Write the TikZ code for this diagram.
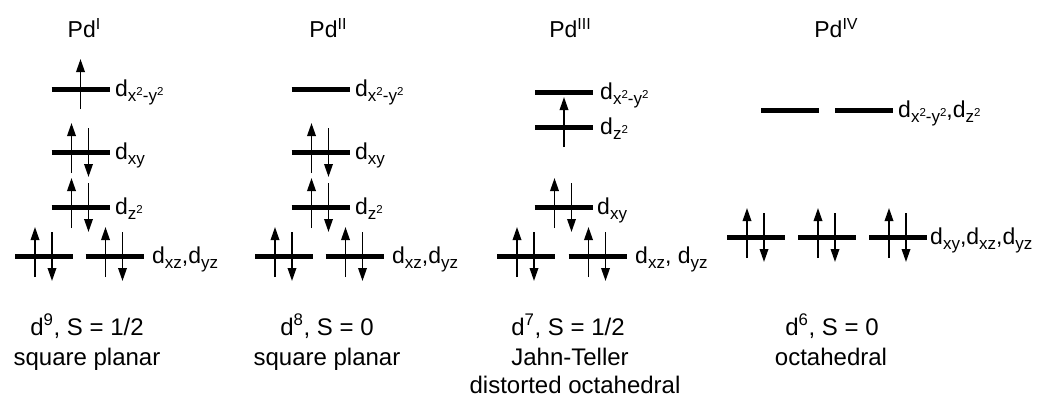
\documentclass[tikz,border=0pt]{standalone}
\usepackage{fontspec}
\setmainfont{Liberation Sans}
\usetikzlibrary{arrows.meta}

% one level: centre x, y (pixels, y downwards)
\newcommand{\lvlempty}[2]{%
	\draw[level] (#1-29,#2) -- (#1+29,#2);}
\newcommand{\lvlup}[2]{%
	\draw[level] (#1-29,#2) -- (#1+29,#2);
	\draw[spin] (#1,#2+20) -- (#1,#2-30);}
\newcommand{\lvlpair}[2]{%
	\draw[level] (#1-29,#2) -- (#1+29,#2);
	\draw[spin] (#1-9,#2+21) -- (#1-9,#2-29);
	\draw[spin] (#1+8,#2-24) -- (#1+8,#2+25);}
% orbital sub- and superscripts
\newcommand{\orbsub}[1]{\raisebox{-5.5pt}{\fontsize{17}{18}\selectfont #1}}
\newcommand{\orbsq}{\raisebox{6pt}{\fontsize{11.5}{12}\selectfont 2}}
\newcommand{\ox}{x\orbsq-y\orbsq}
\newcommand{\oxstate}[1]{\raisebox{8pt}{\fontsize{16}{18}\selectfont #1}}

\begin{document}
\begin{tikzpicture}[
			x=1pt, y=-1pt,
			% styles
			level/.style={line width=5pt},
			spin/.style={line width=1.8pt, -{Triangle[length=13pt, width=8.5pt]}},
			orblabel/.style={anchor=base west, inner sep=0pt,
				font=\fontsize{23}{25}\selectfont},
			title/.style={anchor=base, inner sep=0pt,
				font=\fontsize{23}{26}\selectfont},
			caption/.style={anchor=base, inner sep=0pt,
				font=\fontsize{24}{29}\selectfont}
		]
		\useasboundingbox (0,0) rectangle (1038,397);

		% Pd(I)
		\node[title] (titleI) at (84,37) {Pd\oxstate{I}};
		\lvlup{80.5}{89}
		\node[orblabel] (xyI) at (115,96) {d\orbsub{\ox}};
		\lvlpair{80.5}{152}
		\node[orblabel] (dxyI) at (115,159) {d\orbsub{xy}};
		\lvlpair{80.5}{207}
		\node[orblabel] (dzI) at (115,214) {d\orbsub{z\orbsq}};
		\lvlpair{44}{256}
		\lvlpair{114.5}{256}
		\node[orblabel] (dxzI) at (152,263) {d\orbsub{xz},d\orbsub{yz}};
		\node[caption] (spinI) at (87,335) {d\textsuperscript{9}, S = 1/2};
		\node[caption] (geomI) at (87,365) {square planar};

		% Pd(II)
		\node[title] (titleII) at (328,37) {Pd\oxstate{II}};
		\lvlempty{320.5}{89}
		\node[orblabel] (xyII) at (355,96) {d\orbsub{\ox}};
		\lvlpair{320.5}{152}
		\node[orblabel] (dxyII) at (355,159) {d\orbsub{xy}};
		\lvlpair{320.5}{207}
		\node[orblabel] (dzII) at (355,214) {d\orbsub{z\orbsq}};
		\lvlpair{284}{256}
		\lvlpair{354.5}{256}
		\node[orblabel] (dxzII) at (392,263) {d\orbsub{xz},d\orbsub{yz}};
		\node[caption] (spinII) at (327,335) {d\textsuperscript{8}, S = 0};
		\node[caption] (geomII) at (327,365) {square planar};

		% Pd(III)
		\node[title] (titleIII) at (570,37) {Pd\oxstate{III}};
		\lvlempty{564}{92}
		\node[orblabel] (xyIII) at (600,99) {d\orbsub{\ox}};
		\lvlup{564}{127}
		\node[orblabel] (dzIII) at (600,134) {d\orbsub{z\orbsq}};
		\lvlpair{563.5}{207}
		\node[orblabel] (dxyIII) at (597,214) {d\orbsub{xy}};
		\lvlpair{526}{256}
		\lvlpair{597.5}{256}
		\node[orblabel] (dxzIII) at (635,263) {d\orbsub{xz}, d\orbsub{yz}};
		\node[caption] (spinIII) at (568,335) {d\textsuperscript{7}, S = 1/2};
		\node[caption] (geomIII) at (570,365) {Jahn-Teller};
		\node[caption] (distIII) at (575,393) {distorted octahedral};

		% Pd(IV)
		\node[title] (titleIV) at (836,37) {Pd\oxstate{IV}};
		\lvlempty{790}{110}
		\lvlempty{864}{110}
		\node[orblabel] (egIV) at (898,117) {d\orbsub{\ox},d\orbsub{z\orbsq}};
		\lvlpair{756}{237}
		\lvlpair{827}{237}
		\lvlpair{898}{237}
		\node[orblabel] (tgIV) at (930,244) {d\orbsub{xy},d\orbsub{xz},d\orbsub{yz}};
		\node[caption] (spinIV) at (832,335) {d\textsuperscript{6}, S = 0};
		\node[caption] (geomIV) at (831,365) {octahedral};
\end{tikzpicture}
\end{document}
